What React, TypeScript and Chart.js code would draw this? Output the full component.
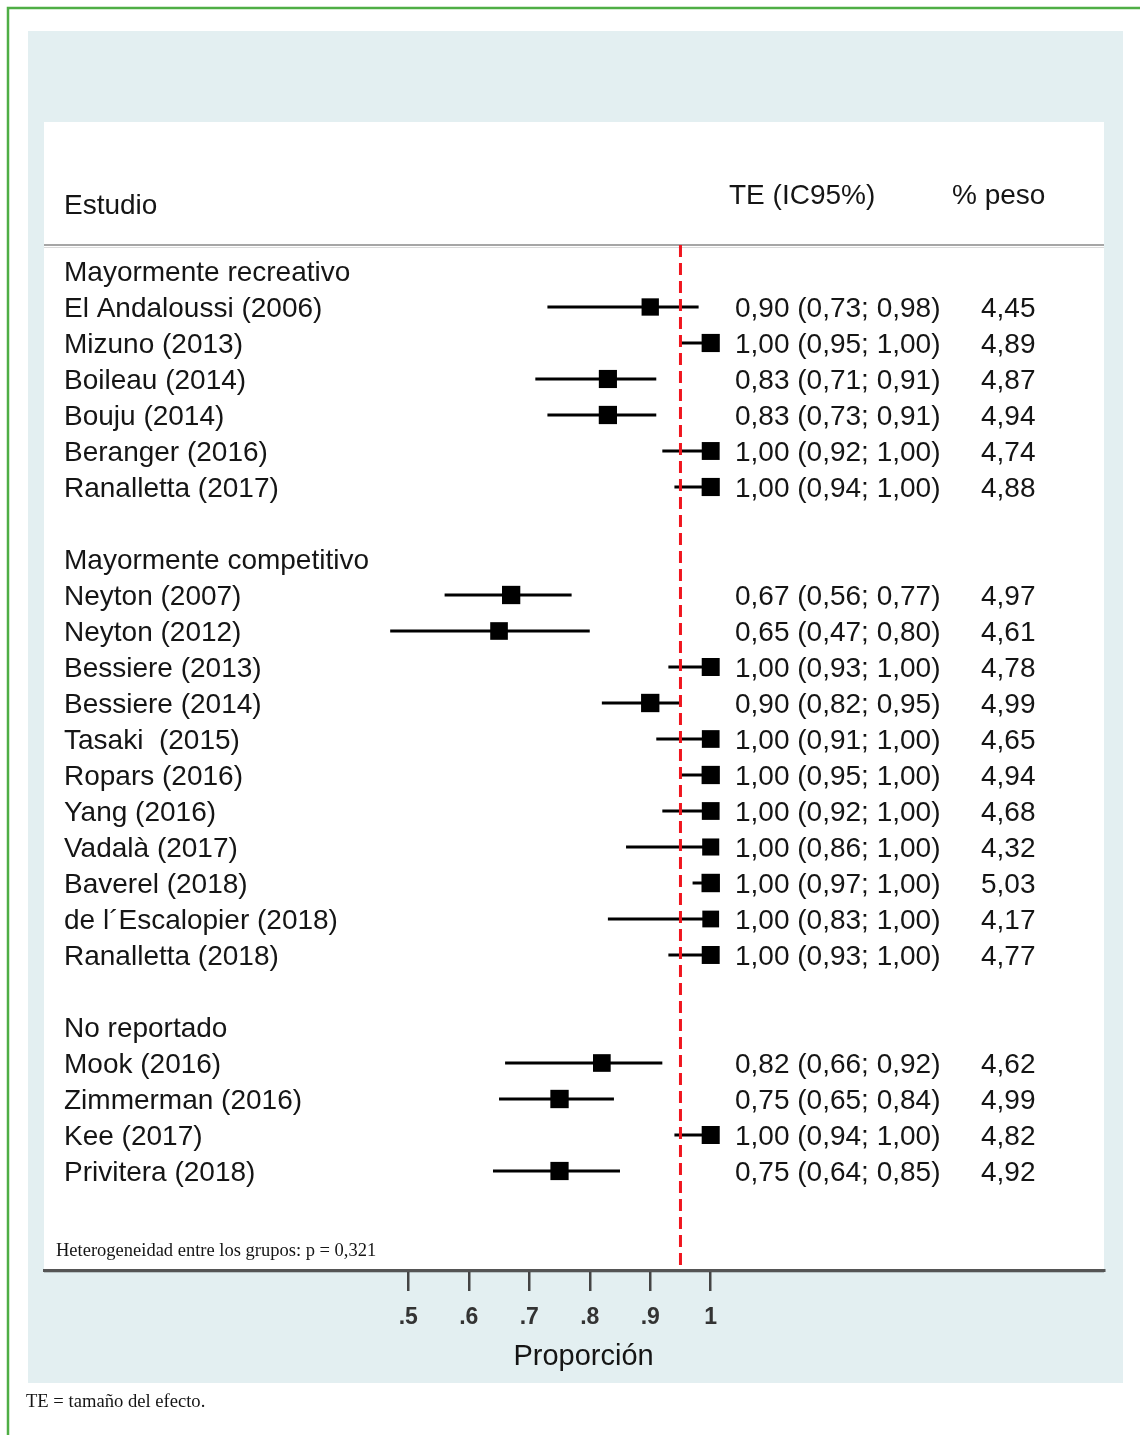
import React, { useEffect, useRef } from 'react';
import { Chart, registerables } from 'chart.js';

Chart.register(...registerables);

const W = 1140;
const H = 1435;

const groupNames = ['Mayormente recreativo', 'Mayormente competitivo', 'No reportado'];
const studyGroup = [0, 0, 0, 0, 0, 0, 1, 1, 1, 1, 1, 1, 1, 1, 1, 1, 1, 2, 2, 2, 2];
const studies = [
  'El Andaloussi (2006)', 'Mizuno (2013)', 'Boileau (2014)', 'Bouju (2014)', 'Beranger (2016)', 'Ranalletta (2017)',
  'Neyton (2007)', 'Neyton (2012)', 'Bessiere (2013)', 'Bessiere (2014)', 'Tasaki  (2015)', 'Ropars (2016)',
  'Yang (2016)', 'Vadalà (2017)', 'Baverel (2018)', 'de l\u00b4Escalopier (2018)', 'Ranalletta (2018)',
  'Mook (2016)', 'Zimmerman (2016)', 'Kee (2017)', 'Privitera (2018)',
];
const effect = [0.90, 1.00, 0.83, 0.83, 1.00, 1.00, 0.67, 0.65, 1.00, 0.90, 1.00, 1.00, 1.00, 1.00, 1.00, 1.00, 1.00, 0.82, 0.75, 1.00, 0.75];
const ciLow = [0.73, 0.95, 0.71, 0.73, 0.92, 0.94, 0.56, 0.47, 0.93, 0.82, 0.91, 0.95, 0.92, 0.86, 0.97, 0.83, 0.93, 0.66, 0.65, 0.94, 0.64];
const ciHigh = [0.98, 1.00, 0.91, 0.91, 1.00, 1.00, 0.77, 0.80, 1.00, 0.95, 1.00, 1.00, 1.00, 1.00, 1.00, 1.00, 1.00, 0.92, 0.84, 1.00, 0.85];
const weights = [4.45, 4.89, 4.87, 4.94, 4.74, 4.88, 4.97, 4.61, 4.78, 4.99, 4.65, 4.94, 4.68, 4.32, 5.03, 4.17, 4.77, 4.62, 4.99, 4.82, 4.92];

const tickValues = [0.5, 0.6, 0.7, 0.8, 0.9, 1];
const tickLabels = ['.5', '.6', '.7', '.8', '.9', '1'];
const referenceValue = 0.95;

const headerStudy = 'Estudio';
const headerEffect = 'TE (IC95%)';
const headerWeight = '% peso';
const axisTitle = 'Proporción';
const heterogeneityText = 'Heterogeneidad entre los grupos: p = 0,321';
const footnoteText = 'TE = tamaño del efecto.';

type Row = { kind: 'group' | 'study'; idx: number; row: number };
const rows: Row[] = [];
(() => {
  let r = 0;
  groupNames.forEach((_, gi) => {
    rows.push({ kind: 'group', idx: gi, row: r++ });
    studies.forEach((_, si) => {
      if (studyGroup[si] === gi) rows.push({ kind: 'study', idx: si, row: r++ });
    });
    r++;
  });
})();
const studyRow = studies.map((_, si) => rows.find((rw) => rw.kind === 'study' && rw.idx === si)!.row);

const fmt = (v: number) => v.toFixed(2).replace('.', ',');

const SANS = '"Liberation Sans", Arial, Helvetica, sans-serif';
const SERIF = '"Liberation Serif", "Times New Roman", serif';

const forestPlugin = {
  id: 'forest',
  beforeDraw(chart: any) {
    const ctx = chart.ctx as CanvasRenderingContext2D;
    ctx.save();
    ctx.fillStyle = '#ffffff';
    ctx.fillRect(0, 0, W, H);
    // outer light panel
    ctx.fillStyle = '#e3eff1';
    ctx.fillRect(28, 31, 1095, 1352);
    // inner white panel
    ctx.fillStyle = '#ffffff';
    ctx.fillRect(44, 122, 1060, 1148);
    // green frame
    ctx.strokeStyle = '#4fae45';
    ctx.lineWidth = 2.5;
    ctx.beginPath();
    ctx.moveTo(8, H);
    ctx.lineTo(8, 8);
    ctx.lineTo(W, 8);
    ctx.stroke();
    // header separator
    ctx.strokeStyle = '#dadada';
    ctx.lineWidth = 1;
    ctx.beginPath();
    ctx.moveTo(44, 247.5);
    ctx.lineTo(1104, 247.5);
    ctx.stroke();
    ctx.strokeStyle = '#a6a6a6';
    ctx.lineWidth = 2;
    ctx.beginPath();
    ctx.moveTo(44, 245);
    ctx.lineTo(1104, 245);
    ctx.stroke();
    // shadow under axis
    ctx.strokeStyle = '#b9c4c6';
    ctx.lineWidth = 1;
    ctx.beginPath();
    ctx.moveTo(44, 1272.5);
    ctx.lineTo(1104, 1272.5);
    ctx.stroke();
    ctx.restore();
  },
  beforeDatasetsDraw(chart: any) {
    const ctx = chart.ctx as CanvasRenderingContext2D;
    const xs = chart.scales.x;
    const ys = chart.scales.y;
    ctx.save();
    ctx.strokeStyle = '#000000';
    ctx.lineWidth = 3;
    studies.forEach((_, i) => {
      const y = ys.getPixelForValue(studyRow[i]);
      ctx.beginPath();
      ctx.moveTo(xs.getPixelForValue(ciLow[i]), y);
      ctx.lineTo(xs.getPixelForValue(ciHigh[i]), y);
      ctx.stroke();
    });
    ctx.restore();
  },
  afterDatasetsDraw(chart: any) {
    const ctx = chart.ctx as CanvasRenderingContext2D;
    const xs = chart.scales.x;
    const area = chart.chartArea;
    const x = xs.getPixelForValue(referenceValue);
    ctx.save();
    ctx.strokeStyle = '#f0161e';
    ctx.lineWidth = 3;
    ctx.setLineDash([12, 6]);
    ctx.beginPath();
    ctx.moveTo(x, area.top);
    ctx.lineTo(x, area.bottom - 2);
    ctx.stroke();
    ctx.restore();
  },
  afterDraw(chart: any) {
    const ctx = chart.ctx as CanvasRenderingContext2D;
    const ys = chart.scales.y;
    const xs = chart.scales.x;
    const dy = 2;
    ctx.save();
    ctx.fillStyle = '#151515';
    ctx.textBaseline = 'middle';
    ctx.textAlign = 'left';
    ctx.font = `28px ${SANS}`;
    ctx.fillText(headerStudy, 64, 204 + dy);
    ctx.fillText(headerEffect, 729, 194 + dy);
    ctx.fillText(headerWeight, 952, 194 + dy);
    rows.forEach((rw) => {
      const y = ys.getPixelForValue(rw.row) + dy;
      if (rw.kind === 'group') {
        ctx.fillText(groupNames[rw.idx], 64, y);
      } else {
        const i = rw.idx;
        ctx.fillText(studies[i], 64, y);
        ctx.fillText(`${fmt(effect[i])} (${fmt(ciLow[i])}; ${fmt(ciHigh[i])})`, 735, y);
        ctx.fillText(fmt(weights[i]), 981, y);
      }
    });
    ctx.textAlign = 'center';
    ctx.font = `29px ${SANS}`;
    ctx.fillText(axisTitle, (xs.getPixelForValue(0.5) + xs.getPixelForValue(1)) / 2 + 24, 1355 + dy);
    ctx.textAlign = 'left';
    ctx.textBaseline = 'alphabetic';
    ctx.font = `18.5px ${SERIF}`;
    ctx.fillText(heterogeneityText, 56, 1256);
    ctx.font = `18.6px ${SERIF}`;
    ctx.fillText(footnoteText, 26, 1407);
    ctx.restore();
  },
};

export default function App() {
  const ref = useRef<HTMLCanvasElement>(null);
  useEffect(() => {
    const canvas = ref.current;
    if (!canvas) return;
    const chart = new Chart(canvas, {
      type: 'scatter',
      data: {
        datasets: [
          {
            label: 'TE',
            data: studies.map((_, i) => ({ x: effect[i], y: studyRow[i] })),
            pointStyle: 'rect',
            pointRadius: weights.map((w) => (18 * Math.sqrt(w / 4.8)) / Math.SQRT2),
            backgroundColor: '#000000',
            borderColor: '#000000',
            borderWidth: 0,
          },
        ],
      },
      options: {
        responsive: false,
        animation: false,
        devicePixelRatio: 1,
        events: [],
        layout: { padding: { left: 44, right: 36, top: 245, bottom: 0 } },
        plugins: {
          legend: { display: false },
          tooltip: { enabled: false },
          title: { display: false },
        },
        scales: {
          x: {
            type: 'linear',
            position: 'bottom',
            min: -0.1024,
            max: 1.6503,
            afterBuildTicks: (scale: any) => {
              scale.ticks = tickValues.map((v) => ({ value: v }));
            },
            afterFit: (scale: any) => {
              scale.height = 165;
            },
            grid: {
              drawOnChartArea: false,
              drawTicks: true,
              tickLength: 21,
              tickColor: '#444444',
              lineWidth: 2.5,
            },
            border: { display: true, color: '#555555', width: 3 },
            ticks: {
              autoSkip: false,
              maxRotation: 0,
              padding: 13,
              color: '#333333',
              font: { family: SANS, size: 23, weight: 'bold' },
              callback: (v: any) => {
                const k = tickValues.findIndex((t) => Math.abs(t - Number(v)) < 1e-6);
                return k >= 0 ? tickLabels[k] : '';
              },
            },
            title: { display: false },
          },
          y: {
            type: 'linear',
            display: false,
            reverse: true,
            min: -0.722,
            max: 27.75,
          },
        },
      },
      plugins: [forestPlugin],
    } as any);
    return () => chart.destroy();
  }, []);
  return (
    <div style={{ position: 'absolute', left: 0, top: 0, width: W, height: H }}>
      <canvas ref={ref} width={W} height={H} style={{ display: 'block', width: W, height: H }} />
    </div>
  );
}
